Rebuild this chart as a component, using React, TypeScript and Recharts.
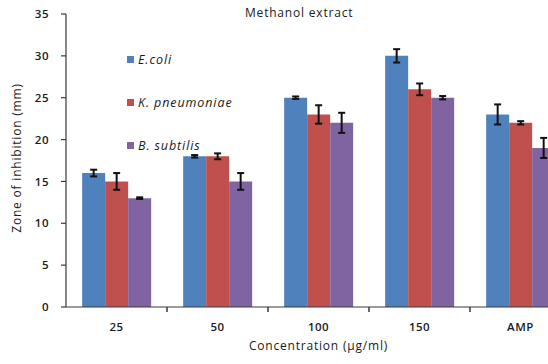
import { BarChart, Bar, XAxis, YAxis, ErrorBar } from 'recharts';

const concentrations = ['25', '50', '100', '150', 'AMP'];
const ecoli = [16, 18, 25, 30, 23];
const ecoliErr = [0.4, 0.15, 0.15, 0.8, 1.2];
const kpneumoniae = [15, 18, 23, 26, 22];
const kpneumoniaeErr = [1, 0.35, 1.1, 0.7, 0.2];
const bsubtilis = [13, 15, 22, 25, 19];
const bsubtilisErr = [0.1, 1, 1.2, 0.2, 1.2];
const yTicks = [0, 5, 10, 15, 20, 25, 30, 35];

const series = [
  { key: 'ecoli', err: 'ecoliErr', name: 'E.coli', color: '#4F81BD' },
  { key: 'kp', err: 'kpErr', name: 'K. pneumoniae', color: '#C0504D' },
  { key: 'bs', err: 'bsErr', name: 'B. subtilis', color: '#8064A2' },
];

const data = concentrations.map((c, i) => ({
  name: c,
  ecoli: ecoli[i],
  ecoliErr: ecoliErr[i],
  kp: kpneumoniae[i],
  kpErr: kpneumoniaeErr[i],
  bs: bsubtilis[i],
  bsErr: bsubtilisErr[i],
}));

const CHART_W = 600;
const Y_AXIS_W = 66;
const margin = { top: 14, right: 29, bottom: 12, left: 0 };
const plotW = CHART_W - margin.left - margin.right - Y_AXIS_W;

const font = '"Open Sans", "Liberation Sans", sans-serif';
const axisColor = '#3a3a3a';
const textColor = '#1a1a1a';

// category label plus a tick mark on the boundary to its right (Excel style)
const CatTick = (props: any) => {
  const { x, y, payload } = props;
  const band = plotW / concentrations.length;
  const axisY = y - 16;
  const bx = Number(x) + band / 2;
  return (
    <g>
      <line x1={bx} x2={bx} y1={axisY} y2={axisY + 5} stroke={axisColor} strokeWidth={1.5} />
      <text
        x={x}
        y={y}
        dy="0.71em"
        textAnchor="middle"
        style={{ fontFamily: font, fontSize: 11.5, fill: textColor, fontWeight: 600, letterSpacing: 0.5 }}
      >
        {payload.value}
      </text>
    </g>
  );
};

export default function App() {
  return (
    <div style={{ position: 'fixed', left: 0, top: 0, width: 548, height: 364, overflow: 'hidden', background: '#fff' }}>
      <BarChart width={CHART_W} height={364} data={data} margin={margin} barCategoryGap="16%" barGap={0}>
        <XAxis
          dataKey="name"
          axisLine={{ stroke: axisColor, strokeWidth: 1.2 }}
          tickLine={false}
          tickSize={6}
          tickMargin={10}
          height={45}
          tick={(p: any) => <CatTick {...p} />}
          label={{
            value: 'Concentration (µg/ml)',
            position: 'insideBottom',
            offset: 2,
            style: { fontFamily: font, fontSize: 12, fill: textColor, letterSpacing: 0.8 },
          }}
        />
        <YAxis
          domain={[0, 35]}
          ticks={yTicks}
          width={Y_AXIS_W}
          tickSize={5}
          tickMargin={12}
          axisLine={{ stroke: axisColor, strokeWidth: 1.2 }}
          tickLine={{ stroke: axisColor, strokeWidth: 1.2 }}
          tick={{ fontFamily: font, fontSize: 11.5, fill: textColor, fontWeight: 600, letterSpacing: 0.5 }}
          label={{
            content: () => (
              <text
                transform="translate(21,158) rotate(-90)"
                textAnchor="middle"
                style={{ fontFamily: font, fontSize: 12, fill: textColor, letterSpacing: 0.8 }}
              >
                Zone of inhibition (mm)
              </text>
            ),
          }}
        />
        {series.map((s) => (
          <Bar key={s.key} dataKey={s.key} name={s.name} fill={s.color} isAnimationActive={false}>
            <ErrorBar dataKey={s.err} width={3.5} strokeWidth={2} stroke="#111" />
          </Bar>
        ))}
      </BarChart>
      <div
        style={{
          position: 'absolute',
          left: 245,
          top: 4,
          fontFamily: font,
          fontSize: 12,
          letterSpacing: 0.8,
          color: textColor,
          whiteSpace: 'nowrap',
        }}
      >
        Methanol extract
      </div>
      <div
        style={{
          position: 'absolute',
          left: 127,
          top: 52,
          fontFamily: font,
          fontSize: 12.5,
          letterSpacing: 0.9,
          fontStyle: 'italic',
          color: textColor,
        }}
      >
        {series.map((s) => (
          <div key={s.key} style={{ display: 'flex', alignItems: 'center', height: 15, marginBottom: 28 }}>
            <span style={{ width: 7, height: 7, background: s.color, marginRight: 4, display: 'inline-block' }} />
            <span>{s.name}</span>
          </div>
        ))}
      </div>
    </div>
  );
}
